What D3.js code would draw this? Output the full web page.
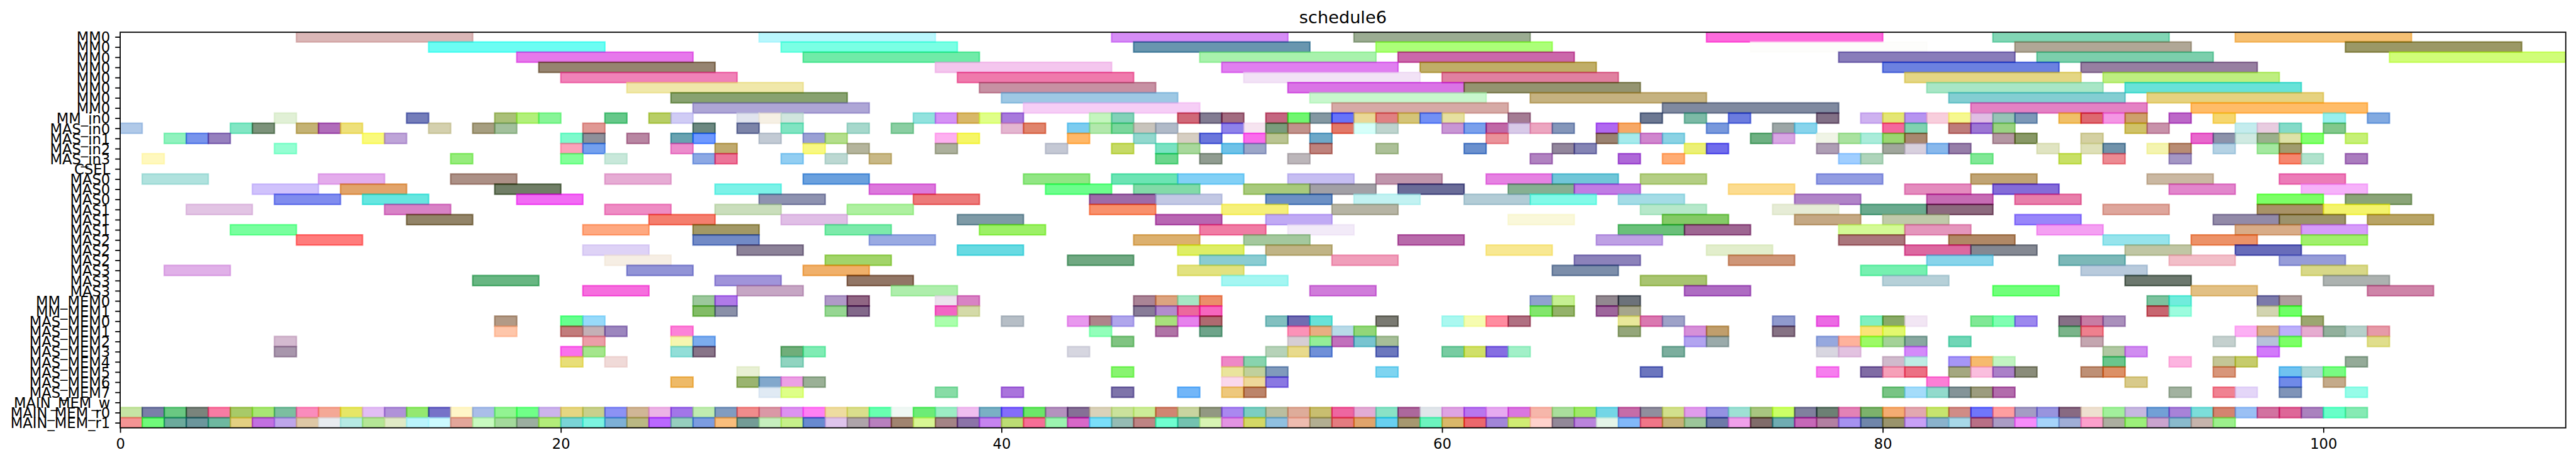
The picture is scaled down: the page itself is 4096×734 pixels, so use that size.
<!DOCTYPE html>
<html><head><meta charset="utf-8">
<script src="https://cdn.jsdelivr.net/npm/d3@7/dist/d3.min.js"></script>
<style>html,body{margin:0;padding:0;background:#fff;overflow:hidden}svg{display:block}</style>
</head><body><svg id="c"></svg>
<script>
const chartTitle = "schedule6";
const rowLabels = ["MM0","MM0","MM0","MM0","MM0","MM0","MM0","MM0","MM_in0","MAS_in0","MAS_in1","MAS_in2","MAS_in3","CSEL",
"MAS0","MAS0","MAS0","MAS1","MAS1","MAS1","MAS2","MAS2","MAS2","MAS3","MAS3","MAS3","MM_MEM0","MM_MEM1",
"MAS_MEM0","MAS_MEM1","MAS_MEM2","MAS_MEM3","MAS_MEM4","MAS_MEM5","MAS_MEM6","MAS_MEM7","MAIN_MEM_w","MAIN_MEM_r0","MAIN_MEM_r1"];
const xTicks = [0,20,40,60,80,100];
const rowDurations = [8,8,8,8,8,8,8,8,1,1,1,1,1,1,3,3,3,3,3,3,3,3,3,3,3,3,1,1,1,1,1,1,1,1,1,1,1,1,1];

const rowStarts = [
/*0*/[8,29,45,56,72,85,96],
/*1*/[14,30,46,57,74,86,101],
/*2*/[18,31,49,58,78,87,103],
/*3*/[19,37,50,59,80,89],
/*4*/[20,38,51,60,81,90],
/*5*/[23,39,53,61,82,91],
/*6*/[25,40,54,64,83,92],
/*7*/[26,41,55,70,84,94],
/*8*/[7,13,17,18,19,22,24,25,28,29,30,36,37,38,39,40,44,45,48,49,50,52,53,54,55,56,57,58,59,60,63,69,71,73,77,79,80,81,82,83,84,85,86,88,89,90,91,93,95,100,102],
/*9*/[0,5,6,8,9,10,14,16,17,21,26,28,30,33,35,40,41,43,44,45,46,47,50,51,52,53,55,56,57,60,61,62,63,64,65,67,68,72,75,76,80,81,83,84,85,91,92,96,97,98,100],
/*10*/[2,3,4,11,12,20,21,23,25,26,29,31,32,37,38,43,46,48,49,51,52,54,62,67,68,69,70,74,75,77,78,79,80,81,85,86,89,94,95,96,97,98,99,101],
/*11*/[7,20,21,25,27,31,33,37,42,45,47,48,50,51,54,57,61,65,66,71,72,77,80,81,82,83,87,89,90,92,93,95,97,98],
/*12*/[1,15,20,22,26,27,30,32,34,47,49,53,64,68,70,78,79,84,88,90,93,98,99,101],
/*13*/[],
/*14*/[1,9,15,22,31,41,45,48,53,57,62,65,69,77,84,92,98],
/*15*/[6,10,17,27,34,42,46,51,54,58,63,66,73,81,85,93,99],
/*16*/[7,11,18,29,36,44,47,52,56,61,64,68,76,82,86,97,101],
/*17*/[3,12,22,27,33,44,50,55,69,75,79,82,90,97,100],
/*18*/[13,24,30,38,47,52,63,70,76,80,86,95,98,102],
/*19*/[5,21,26,32,39,49,53,68,71,78,81,87,96,99],
/*20*/[8,26,34,46,51,58,67,78,83,90,94,99],
/*21*/[21,28,38,48,52,62,72,81,84,91,96],
/*22*/[22,32,43,49,55,66,73,82,88,93,98],
/*23*/[2,23,31,48,65,79,89,99],
/*24*/[16,27,33,50,69,80,91,100],
/*25*/[21,28,35,54,71,85,94,102],
/*26*/[26,27,32,33,37,38,46,47,48,49,64,65,67,68,92,93,97,98],
/*27*/[26,27,32,33,37,38,46,47,48,49,64,65,67,68,92,93,97,98],
/*28*/[17,20,21,37,40,43,44,45,47,48,49,52,53,54,57,60,61,62,63,68,69,70,75,77,79,80,81,84,85,86,88,89,90,99],
/*29*/[17,20,21,22,25,44,47,49,53,54,55,56,68,71,72,75,79,80,88,89,96,97,98,99,100,101,102],
/*30*/[7,21,25,26,45,53,54,55,56,57,71,72,77,78,79,80,81,83,89,95,97,98,102],
/*31*/[7,20,21,25,26,30,31,43,52,53,54,57,60,61,62,63,70,77,78,81,90,91,97],
/*32*/[20,22,30,50,51,80,81,83,84,85,90,93,95,96,101],
/*33*/[28,45,50,51,52,57,69,77,79,80,81,83,84,85,86,89,90,95,98,99,100],
/*34*/[25,28,29,30,31,50,51,52,82,91,98,100],
/*35*/[29,30,37,40,45,48,50,51,80,81,82,83,84,85,93,95,96,98,101],
/*36*/[],
/*37*/[0,1,2,3,4,5,6,7,8,9,10,11,12,13,14,15,16,17,18,19,20,21,22,23,24,25,26,27,28,29,30,31,32,33,34,35,36,37,38,39,40,41,42,43,44,45,46,47,48,49,50,51,52,53,54,55,56,57,58,59,60,61,62,63,64,65,66,67,68,69,70,71,72,73,74,75,76,77,78,79,80,81,82,83,84,85,86,87,88,89,90,91,92,93,94,95,96,97,98,99,100,101],
/*38*/[0,1,2,3,4,5,6,7,8,9,10,11,12,13,14,15,16,17,18,19,20,21,22,23,24,25,26,27,28,29,30,31,32,33,34,35,36,37,38,39,40,41,42,43,44,45,46,47,48,49,50,51,52,53,54,55,56,57,58,59,60,61,62,63,64,65,66,67,68,69,70,71,72,73,74,75,76,77,78,79,80,81,82,83,84,85,86,87,88,89,90,91,92,93,94,95]
];

const rowColors = [
/*0*/["219,183,183","186,247,253","214,141,246","155,172,146","253,107,220","130,214,181","245,192,116"],
/*1*/["108,253,243","122,255,228","105,150,175","172,255,120","253,253,251","176,167,150","155,152,96"],
/*2*/["230,120,235","112,235,168","168,242,172","203,104,170","137,125,186","124,207,172","208,253,120"],
/*3*/["150,132,112","244,198,238","224,127,240","192,174,103","108,129,224","151,127,161"],
/*4*/["240,130,184","239,122,172","242,226,246","224,128,160","228,214,132","190,238,128"],
/*5*/["240,232,170","199,145,163","218,116,230","148,148,112","168,230,198","104,226,216"],
/*6*/["136,162,112","158,200,228","200,247,205","197,178,128","132,206,210","230,210,128"],
/*7*/["174,166,214","246,206,246","214,170,166","128,138,160","228,130,196","255,188,104"],
/*8*/["225,240,214","116,125,186","170,192,120","178,240,122","136,245,152","102,200,138","184,206,100","208,204,245","225,228,238","246,240,228","208,230,222","146,226,222","212,146,244","216,184,104","224,255,136","168,122,220","196,245,190","130,210,184","208,104,120","130,124,146","162,108,128","196,102,128","112,246,112","132,152,162","100,115,250","234,216,150","224,128,130","212,196,120","114,144,245","230,224,160","164,124,148","108,120,146","124,186,166","108,124,222","130,112,134","206,178,240","228,230,116","182,148,240","248,206,220","246,248,144","224,190,228","150,196,182","124,152,184","240,192,104","222,104,112","244,150,228","206,160,108","188,104,200","246,214,110","152,240,238","130,170,225"],
/*9*/["176,201,232","130,230,196","124,146,122","196,178,116","176,108,186","238,224,122","212,208,174","166,158,128","162,192,156","224,152,148","108,136,128","124,132,168","128,228,194","166,216,204","138,206,162","228,182,208","224,132,108","124,204,240","178,232,172","122,214,156","200,196,188","176,186,200","142,130,234","246,228,240","122,156,124","192,146,140","226,120,104","214,255,250","190,212,206","200,150,212","122,160,236","192,104,166","216,202,232","236,166,192","132,150,186","176,104,240","246,168,98","120,152,220","156,166,166","136,212,236","244,104,156","128,210,176","190,124,122","156,118,212","154,210,130","208,194,104","200,146,170","196,236,238","232,204,224","132,218,200","130,200,140"],
/*10*/["144,242,190","120,148,236","150,128,190","250,250,124","190,164,216","126,250,204","142,144,154","184,134,162","104,162,176","110,152,255","194,202,212","154,160,212","180,222,140","254,176,240","246,246,98","255,184,104","146,216,206","214,206,194","106,118,220","250,108,236","186,196,146","110,168,200","234,146,154","154,130,112","166,234,236","208,134,206","138,210,228","110,176,130","216,166,228","240,244,230","170,226,160","170,236,218","154,214,112","168,136,112","180,150,162","136,152,102","212,208,162","232,104,204","140,146,170","208,234,226","154,176,140","222,226,168","130,255,110","198,240,118"],
/*11*/["148,254,210","252,162,186","116,160,238","236,140,204","192,170,110","248,248,130","180,180,156","172,176,156","196,200,212","198,218,100","122,226,194","168,216,156","110,194,232","156,166,200","190,130,124","172,192,152","106,144,206","146,134,156","132,132,180","236,240,118","112,108,236","174,158,180","160,166,156","216,208,222","136,184,236","150,126,168","224,228,194","222,224,184","112,146,170","244,244,176","184,140,116","180,210,228","164,232,160","160,156,110"],
/*12*/["255,248,190","150,236,124","130,255,152","200,232,218","140,168,228","236,116,152","146,206,242","188,216,210","200,184,134","106,214,140","144,156,144","188,182,186","176,130,192","174,104,216","255,172,116","160,206,255","174,212,186","128,232,150","200,224,100","236,138,146","164,150,196","246,134,110","176,226,204","170,124,190"],
/*13*/[],
/*14*/["176,226,222","228,172,236","172,144,134","230,172,212","106,160,222","145,230,132","108,228,180","130,208,246","198,190,242","192,150,172","230,130,226","112,198,216","180,206,132","146,156,226","192,164,116","202,184,162","236,124,184"],
/*15*/["208,194,252","226,164,106","112,126,100","124,242,232","220,120,220","108,254,140","130,218,168","168,202,124","162,160,166","106,108,152","134,176,146","192,124,228","252,220,144","228,140,190","132,108,216","226,134,204","246,178,250"],
/*16*/["128,140,238","102,230,224","242,106,244","142,146,176","236,122,122","158,106,168","194,200,228","108,144,196","194,242,242","178,204,214","130,250,232","164,220,230","176,132,200","198,108,180","232,126,170","124,255,100","138,164,120"],
/*17*/["226,196,228","216,130,198","238,140,196","202,222,188","174,240,160","248,144,108","246,240,122","182,180,164","182,232,202","230,236,214","106,170,142","140,106,126","222,166,156","168,146,104","244,244,108"],
/*18*/["146,132,104","244,126,110","224,190,230","126,154,166","184,100,178","192,170,244","250,248,218","132,202,98","196,168,132","192,202,170","152,134,250","146,138,168","156,146,108","184,164,100"],
/*19*/["120,255,158","254,168,128","162,152,102","124,234,170","156,240,98","240,124,164","242,234,248","106,192,122","158,100,146","212,250,150","228,150,188","244,160,242","216,172,136","214,156,250"],
/*20*/["255,124,124","114,138,198","154,170,226","220,176,110","164,200,158","184,106,170","190,160,228","170,118,124","176,136,102","150,228,236","236,146,104","160,240,108"],
/*21*/["222,210,246","140,130,152","104,218,226","222,238,98","192,180,134","248,232,146","226,238,204","220,104,160","132,136,146","192,198,164","104,108,186"],
/*22*/["246,238,228","162,212,106","112,168,130","138,204,210","240,158,186","140,130,186","206,150,120","136,212,234","124,184,184","242,190,200","150,156,216"],
/*23*/["224,176,232","146,148,214","240,176,106","226,226,128","124,142,170","118,240,176","184,202,220","216,216,136"],
/*24*/["104,182,130","160,148,218","146,118,102","164,246,242","168,196,112","182,208,216","108,120,110","172,178,176"],
/*25*/["246,110,222","198,166,196","174,238,172","208,124,218","174,108,194","112,255,122","226,192,132","206,132,168"],
/*26*/["156,200,156","176,122,232","176,154,200","144,100,132","236,226,238","216,130,196","170,132,150","220,164,128","166,230,196","236,142,106","144,162,208","198,240,146","146,136,144","108,114,122","124,194,158","112,236,220","124,122,170","174,158,156"],
/*27*/["130,188,100","138,144,168","150,214,146","130,104,138","242,102,196","212,218,168","136,124,152","178,140,204","236,104,156","246,100,190","130,230,108","148,178,106","158,100,156","166,166,140","200,102,112","156,252,222","210,212,176","110,255,100"],
/*28*/["178,154,134","100,255,142","152,218,250","170,254,172","182,190,198","232,152,238","174,132,138","176,166,236","168,224,124","230,130,236","174,106,112","130,192,192","112,108,178","104,226,216","122,122,114","170,248,240","246,252,176","255,140,160","176,112,130","232,232,154","218,120,176","158,162,200","144,154,206","236,106,228","128,240,192","138,170,104","242,230,244","128,232,150","128,254,178","156,136,238","134,112,134","200,124,164","170,144,188","156,166,112"],
/*29*/["254,198,170","194,124,124","196,176,182","156,134,190","252,130,216","146,255,186","176,116,166","110,164,138","252,146,184","232,174,130","184,218,232","146,214,120","148,166,122","214,144,216","192,158,108","134,114,132","250,228,120","226,248,110","122,180,138","238,128,142","252,176,244","216,174,140","188,176,250","230,172,208","146,176,156","182,208,202","230,154,168"],
/*30*/["212,186,208","236,158,168","246,246,176","124,172,238","128,196,130","214,206,212","148,238,152","194,112,188","120,196,208","166,190,152","178,164,240","154,170,170","150,168,222","254,178,156","156,250,100","164,210,152","136,168,160","112,214,182","196,166,176","196,208,206","182,194,218","124,255,100","224,222,140"],
/*31*/["168,150,172","250,112,236","164,230,140","146,222,216","136,116,136","112,174,122","128,236,180","214,214,224","182,210,184","232,218,140","112,144,216","108,120,190","120,204,162","208,224,104","134,110,226","162,240,200","124,174,158","216,214,224","226,194,224","212,138,250","176,200,162","208,140,240","210,122,250"],
/*32*/["232,222,120","240,218,216","144,212,192","238,136,198","136,212,174","208,186,204","190,236,228","166,150,246","246,186,110","194,244,194","106,198,140","252,180,224","196,198,150","198,204,108","148,170,152"],
/*33*/["232,240,212","136,244,112","234,228,156","192,208,156","128,154,188","126,212,240","108,118,190","246,126,238","128,108,164","246,160,184","236,112,132","164,168,128","250,190,222","170,128,200","138,140,122","190,144,118","220,144,102","216,150,122","112,194,240","176,216,216","120,252,130"],
/*34*/["238,186,104","154,180,112","130,168,204","236,160,228","154,176,150","250,216,236","238,216,154","138,120,226","252,126,214","216,202,138","112,138,232","196,170,138"],
/*35*/["224,234,244","222,255,136","136,220,166","170,116,220","126,116,170","114,182,248","238,200,124","188,132,106","120,196,132","164,220,250","146,218,204","132,148,152","156,156,126","178,108,172","162,178,160","240,130,146","228,214,248","128,148,184","150,252,232"],
/*36*/[],
/*37*/["198,228,164","122,128,168","106,200,130","122,132,124","248,124,164","168,202,104","168,230,116","124,190,160","250,140,188","244,168,150","230,230,100","226,190,244","176,146,216","148,232,112","118,114,200","255,246,200","170,190,232","146,244,146","112,255,136","204,180,236","230,214,130","200,208,140","140,146,244","208,182,150","236,180,230","162,118,232","192,236,176","130,156,192","240,140,140","218,152,166","220,146,240","255,128,244","238,220,160","218,222,140","104,255,176","240,248,244","108,236,118","156,236,196","240,190,240","122,176,196","132,108,250","108,230,104","180,146,190","134,112,150","218,210,186","202,226,156","204,236,152","208,134,114","200,212,160","146,152,130","170,136,240","124,206,192","186,190,160","222,172,154","200,190,112","238,102,160","226,172,212","138,226,198","172,104,156","224,230,234","222,164,226","184,118,238","230,170,240","218,118,224","246,182,170","170,222,156","160,232,106","116,214,230","198,108,168","144,142,158","210,224,140","224,156,236","148,146,226","158,224,212","168,198,128","202,255,88","128,128,158","108,128,116","226,130,182","124,178,108","244,172,114","226,168,176","198,228,110","208,140,134","112,118,250","254,158,160","164,156,196","152,148,222","136,106,130","238,224,208","162,240,156","198,184,224","114,160,214","168,130,216","124,222,218","212,132,112","154,192,244","210,114,160","222,96,152","170,130,190","104,255,200","134,234,180"],
/*38*/["244,148,148","112,250,122","108,170,156","108,150,156","110,184,160","228,208,130","194,112,224","190,166,234","222,200,166","232,236,240","182,234,228","180,230,150","224,234,198","186,244,252","204,250,254","226,166,154","200,250,192","164,218,156","156,174,160","178,236,122","122,212,214","124,244,224","126,176,214","186,184,132","186,104,255","150,206,190","124,156,224","250,190,124","116,156,150","198,238,190","198,240,138","104,138,208","222,196,236","174,164,170","184,128,190","160,132,112","216,246,148","164,132,134","140,116,168","198,132,240","188,220,116","246,110,150","156,244,176","216,104,200","122,222,250","150,188,180","190,132,132","112,254,208","116,194,176","216,244,180","226,148,226","212,216,100","144,192,224","238,188,176","178,174,146","228,124,128","224,164,108","104,208,240","166,152,112","108,244,190","218,184,106","236,104,108","162,134,216","208,236,116","254,210,204","146,136,152","186,132,220","228,244,232","130,184,248","240,118,136","198,178,120","156,198,154","110,122,168","240,160,234","128,108,106","112,172,178","198,104,184","178,128,162","166,146,240","112,134,170","154,148,108","200,160,246","138,178,204","168,216,232","184,112,134","170,156,196","246,140,250","166,212,250","160,174,214","252,160,204","172,174,160","156,240,122","202,164,206","138,186,204","198,180,172","156,240,140"]
];

const W = 4096, H = 734, k = W / 5020;
const ALPHA = 0.6;
const svg = d3.select("#c").attr("width", W).attr("height", H).attr("viewBox", `0 0 ${W} ${H}`);
const plot = {l: 234.2*k, r: 5000*k, t: 62.8*k, b: 833*k};
const x = d3.scaleLinear().domain([0,111]).range([plot.l, plot.r]);
const y = d3.scaleLinear().domain([-0.455,38.5]).range([plot.t, plot.b]);
const font = "'DejaVu Sans'";
const baseColor = s => {
  const c = s.split(",").map(v => Math.max(0, Math.min(255, Math.round((+v - 255*(1-ALPHA))/ALPHA))));
  return d3.rgb(c[0],c[1],c[2]).formatHex();
};
svg.append("rect").attr("width",W).attr("height",H).attr("fill","#fff");
svg.append("defs").append("clipPath").attr("id","plotClip").append("rect")
  .attr("x",plot.l).attr("y",plot.t).attr("width",plot.r-plot.l).attr("height",plot.b-plot.t);

const marks = rowStarts.flatMap((starts,row) => starts.map((t,i) => ({row, t, dur: rowDurations[row], col: baseColor(rowColors[row][i] || "255,255,255")})));
svg.append("g").attr("clip-path","url(#plotClip)").selectAll("rect").data(marks).join("rect")
  .attr("x", d => x(d.t))
  .attr("width", d => x(d.t+d.dur)-x(d.t))
  .attr("y", d => y(d.row-0.5))
  .attr("height", d => y(d.row+0.5)-y(d.row-0.5))
  .attr("fill", d => d.col).attr("fill-opacity", ALPHA)
  .attr("stroke", d => d.col).attr("stroke-opacity", ALPHA)
  .attr("stroke-width", 2.78*k);

const tickLen = 9.7*k, tickW = 2.2*k, fs = 27.78*k;
const gy = svg.append("g").attr("transform",`translate(${plot.l},0)`)
  .call(d3.axisLeft(y).tickValues(d3.range(rowLabels.length)).tickFormat(i => rowLabels[i]).tickSize(tickLen).tickPadding(9.7*k));
const gx = svg.append("g").attr("transform",`translate(0,${plot.b})`)
  .call(d3.axisBottom(x).tickValues(xTicks).tickFormat(d3.format("d")).tickSize(tickLen).tickPadding(9.7*k));
[gy,gx].forEach(g => {
  g.select(".domain").remove();
  g.selectAll("line").attr("stroke","#000").attr("stroke-width",tickW);
  g.selectAll("text").attr("fill","#000").attr("font-family",font).attr("font-size",fs);
});
gy.selectAll("text").attr("dy","0.365em");
gx.selectAll("text").attr("dy","0.76em");

svg.append("rect").attr("x",plot.l).attr("y",plot.t).attr("width",plot.r-plot.l).attr("height",plot.b-plot.t)
  .attr("fill","none").attr("stroke","#000").attr("stroke-width",tickW);
svg.append("text").attr("x",(plot.l+plot.r)/2).attr("y",45*k).attr("text-anchor","middle")
  .attr("font-family",font).attr("font-size",33.33*k).attr("fill","#000").text(chartTitle);
</script></body></html>
